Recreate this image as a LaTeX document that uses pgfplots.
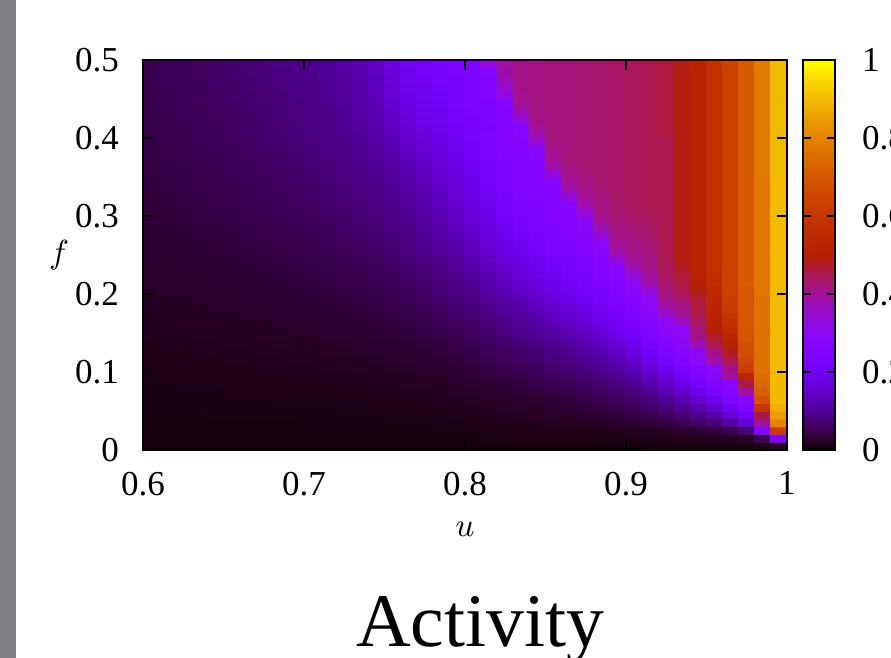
\documentclass[border=0pt]{standalone}
\usepackage{pgfplots}
\pgfplotsset{compat=1.18}
\usepackage{fontspec}
\setmainfont{Liberation Serif}
\definecolor{sidebar}{RGB}{128,129,133}
\newcommand\ticfont{\fontsize{10.5}{12}\selectfont}

\begin{document}
\begin{tikzpicture}
\useasboundingbox (-42.9pt,-62.4pt) rectangle (224.4pt,135pt);
\clip (-42.9pt,-62.4pt) rectangle (224.4pt,135pt);
\fill[sidebar] (-42.9pt,-62.4pt) rectangle (-38.1pt,135pt);
\begin{axis}[
  scale only axis, width=193.2pt, height=117pt,
  xmin=0.6, xmax=1, ymin=0, ymax=0.5,
  xtick={0.6,0.7,0.8,0.9,1}, ytick={0,0.1,0.2,0.3,0.4,0.5},
  xtick pos=both, ytick pos=both, xticklabel pos=left, yticklabel pos=left,
  tick align=inside, major tick length=3pt,
  axis line style={line width=0.6pt},
  every tick/.style={black, line width=0.5pt},
  /pgf/number format/assume math mode=true,
  xticklabel style={font=\ticfont, yshift=-3pt},
  yticklabel style={font=\ticfont, xshift=-3.7pt},
  xlabel={$u$}, ylabel={$f$},
  xlabel style={at={(axis description cs:0.5,0)}, anchor=center, yshift=-23.8pt, font=\fontsize{10.4}{12}\selectfont},
  ylabel style={at={(axis description cs:0,0.5)}, anchor=center, rotate=-90, xshift=-25.2pt, font=\fontsize{10.4}{12}\selectfont},
  axis on top,
  point meta min=0, point meta max=1,
  colormap={gnu}{rgb255(0)=(0,0,0) rgb255(5)=(18,0,8) rgb255(10)=(26,0,16) rgb255(20)=(36,0,32) rgb255(30)=(44,0,48) rgb255(40)=(51,0,63) rgb255(50)=(57,0,79) rgb255(75)=(70,0,116) rgb255(100)=(81,0,150) rgb255(125)=(90,0,180) rgb255(150)=(99,1,206) rgb255(175)=(107,1,227) rgb255(200)=(114,2,243) rgb255(225)=(121,3,252) rgb255(250)=(128,4,255) rgb255(275)=(134,5,252) rgb255(300)=(140,7,243) rgb255(350)=(151,11,206) rgb255(400)=(161,16,150) rgb255(450)=(171,23,79) rgb255(500)=(180,32,0) rgb255(550)=(189,42,0) rgb255(600)=(197,55,0) rgb255(650)=(206,70,0) rgb255(700)=(213,87,0) rgb255(750)=(221,108,0) rgb255(800)=(228,131,0) rgb255(850)=(235,157,0) rgb255(900)=(242,186,0) rgb255(950)=(249,219,0) rgb255(1000)=(255,255,0)},
  colorbar,
  colorbar shift/.style={xshift=4.8pt},
  colorbar style={
    at={(parent axis.north east)}, anchor=north west,
    width=9.6pt,
    ytick={0,0.2,0.4,0.6,0.8,1},
    ytick pos=both, yticklabel pos=right,
    tick align=inside, major tick length=2.4pt,
    axis line style={line width=0.45pt},
    every tick/.style={black, line width=0.45pt},
    /pgf/number format/assume math mode=true,
    yticklabel style={font=\ticfont, xshift=4.6pt},
  },
]
\addplot[matrix plot*, mesh/cols=40, point meta=explicit] table[x=u, y=f, meta=c] {
u f c
0.605 0.005 0.008
0.615 0.005 0.008
0.625 0.005 0.008
0.635 0.005 0.008
0.645 0.005 0.008
0.655 0.005 0.008
0.665 0.005 0.008
0.675 0.005 0.008
0.685 0.005 0.008
0.695 0.005 0.008
0.705 0.005 0.008
0.715 0.005 0.008
0.725 0.005 0.008
0.735 0.005 0.008
0.745 0.005 0.008
0.755 0.005 0.008
0.765 0.005 0.008
0.775 0.005 0.008
0.785 0.005 0.008
0.795 0.005 0.008
0.805 0.005 0.008
0.815 0.005 0.008
0.825 0.005 0.008
0.835 0.005 0.008
0.845 0.005 0.008
0.855 0.005 0.008
0.865 0.005 0.008
0.875 0.005 0.008
0.885 0.005 0.008
0.895 0.005 0.008
0.905 0.005 0.008
0.915 0.005 0.009
0.925 0.005 0.009
0.935 0.005 0.009
0.945 0.005 0.009
0.955 0.005 0.009
0.965 0.005 0.009
0.975 0.005 0.010
0.985 0.005 0.015
0.995 0.005 0.030
0.605 0.015 0.008
0.615 0.015 0.008
0.625 0.015 0.008
0.635 0.015 0.008
0.645 0.015 0.008
0.655 0.015 0.008
0.665 0.015 0.008
0.675 0.015 0.008
0.685 0.015 0.008
0.695 0.015 0.008
0.705 0.015 0.008
0.715 0.015 0.008
0.725 0.015 0.009
0.735 0.015 0.009
0.745 0.015 0.009
0.755 0.015 0.009
0.765 0.015 0.009
0.775 0.015 0.009
0.785 0.015 0.009
0.795 0.015 0.009
0.805 0.015 0.009
0.815 0.015 0.010
0.825 0.015 0.010
0.835 0.015 0.010
0.845 0.015 0.010
0.855 0.015 0.010
0.865 0.015 0.010
0.875 0.015 0.011
0.885 0.015 0.011
0.895 0.015 0.012
0.905 0.015 0.012
0.915 0.015 0.013
0.925 0.015 0.014
0.935 0.015 0.015
0.945 0.015 0.017
0.955 0.015 0.019
0.965 0.015 0.020
0.975 0.015 0.025
0.985 0.015 0.055
0.995 0.015 0.250
0.605 0.025 0.009
0.615 0.025 0.009
0.625 0.025 0.009
0.635 0.025 0.009
0.645 0.025 0.009
0.655 0.025 0.009
0.665 0.025 0.009
0.675 0.025 0.009
0.685 0.025 0.009
0.695 0.025 0.009
0.705 0.025 0.009
0.715 0.025 0.009
0.725 0.025 0.009
0.735 0.025 0.009
0.745 0.025 0.009
0.755 0.025 0.009
0.765 0.025 0.010
0.775 0.025 0.010
0.785 0.025 0.010
0.795 0.025 0.010
0.805 0.025 0.011
0.815 0.025 0.012
0.825 0.025 0.013
0.835 0.025 0.013
0.845 0.025 0.013
0.855 0.025 0.014
0.865 0.025 0.015
0.875 0.025 0.015
0.885 0.025 0.016
0.895 0.025 0.018
0.905 0.025 0.019
0.915 0.025 0.022
0.925 0.025 0.025
0.935 0.025 0.029
0.945 0.025 0.034
0.955 0.025 0.041
0.965 0.025 0.055
0.975 0.025 0.080
0.985 0.025 0.250
0.995 0.025 0.620
0.605 0.035 0.009
0.615 0.035 0.009
0.625 0.035 0.009
0.635 0.035 0.009
0.645 0.035 0.009
0.655 0.035 0.009
0.665 0.035 0.009
0.675 0.035 0.009
0.685 0.035 0.009
0.695 0.035 0.009
0.705 0.035 0.010
0.715 0.035 0.010
0.725 0.035 0.010
0.735 0.035 0.010
0.745 0.035 0.010
0.755 0.035 0.010
0.765 0.035 0.011
0.775 0.035 0.011
0.785 0.035 0.012
0.795 0.035 0.012
0.805 0.035 0.013
0.815 0.035 0.015
0.825 0.035 0.015
0.835 0.035 0.016
0.845 0.035 0.018
0.855 0.035 0.019
0.865 0.035 0.021
0.875 0.035 0.023
0.885 0.035 0.025
0.895 0.035 0.028
0.905 0.035 0.032
0.915 0.035 0.038
0.925 0.035 0.045
0.935 0.035 0.054
0.945 0.035 0.065
0.955 0.035 0.080
0.965 0.035 0.110
0.975 0.035 0.160
0.985 0.035 0.400
0.995 0.035 0.800
0.605 0.045 0.009
0.615 0.045 0.009
0.625 0.045 0.009
0.635 0.045 0.009
0.645 0.045 0.010
0.655 0.045 0.010
0.665 0.045 0.010
0.675 0.045 0.010
0.685 0.045 0.010
0.695 0.045 0.010
0.705 0.045 0.010
0.715 0.045 0.011
0.725 0.045 0.011
0.735 0.045 0.011
0.745 0.045 0.011
0.755 0.045 0.012
0.765 0.045 0.012
0.775 0.045 0.013
0.785 0.045 0.013
0.795 0.045 0.015
0.805 0.045 0.016
0.815 0.045 0.018
0.825 0.045 0.019
0.835 0.045 0.021
0.845 0.045 0.023
0.855 0.045 0.025
0.865 0.045 0.027
0.875 0.045 0.030
0.885 0.045 0.033
0.895 0.045 0.037
0.905 0.045 0.043
0.915 0.045 0.051
0.925 0.045 0.061
0.935 0.045 0.074
0.945 0.045 0.091
0.955 0.045 0.112
0.965 0.045 0.150
0.975 0.045 0.210
0.985 0.045 0.460
0.995 0.045 0.850
0.605 0.055 0.010
0.615 0.055 0.010
0.625 0.055 0.010
0.635 0.055 0.010
0.645 0.055 0.010
0.655 0.055 0.010
0.665 0.055 0.010
0.675 0.055 0.011
0.685 0.055 0.011
0.695 0.055 0.011
0.705 0.055 0.011
0.715 0.055 0.011
0.725 0.055 0.012
0.735 0.055 0.012
0.745 0.055 0.012
0.755 0.055 0.014
0.765 0.055 0.014
0.775 0.055 0.015
0.785 0.055 0.016
0.795 0.055 0.017
0.805 0.055 0.018
0.815 0.055 0.021
0.825 0.055 0.023
0.835 0.055 0.025
0.845 0.055 0.027
0.855 0.055 0.030
0.865 0.055 0.033
0.875 0.055 0.037
0.885 0.055 0.042
0.895 0.055 0.046
0.905 0.055 0.054
0.915 0.055 0.066
0.925 0.055 0.080
0.935 0.055 0.097
0.945 0.055 0.120
0.955 0.055 0.148
0.965 0.055 0.200
0.975 0.055 0.250
0.985 0.055 0.600
0.995 0.055 0.880
0.605 0.065 0.010
0.615 0.065 0.010
0.625 0.065 0.010
0.635 0.065 0.011
0.645 0.065 0.011
0.655 0.065 0.011
0.665 0.065 0.011
0.675 0.065 0.011
0.685 0.065 0.012
0.695 0.065 0.012
0.705 0.065 0.012
0.715 0.065 0.012
0.725 0.065 0.014
0.735 0.065 0.014
0.745 0.065 0.015
0.755 0.065 0.015
0.765 0.065 0.016
0.775 0.065 0.017
0.785 0.065 0.018
0.795 0.065 0.019
0.805 0.065 0.021
0.815 0.065 0.025
0.825 0.065 0.027
0.835 0.065 0.030
0.845 0.065 0.033
0.855 0.065 0.036
0.865 0.065 0.040
0.875 0.065 0.045
0.885 0.065 0.051
0.895 0.065 0.058
0.905 0.065 0.068
0.915 0.065 0.082
0.925 0.065 0.100
0.935 0.065 0.122
0.945 0.065 0.151
0.955 0.065 0.188
0.965 0.065 0.240
0.975 0.065 0.290
0.985 0.065 0.680
0.995 0.065 0.900
0.605 0.075 0.011
0.615 0.075 0.011
0.625 0.075 0.011
0.635 0.075 0.011
0.645 0.075 0.011
0.655 0.075 0.013
0.665 0.075 0.013
0.675 0.075 0.013
0.685 0.075 0.013
0.695 0.075 0.014
0.705 0.075 0.014
0.715 0.075 0.014
0.725 0.075 0.015
0.735 0.075 0.015
0.745 0.075 0.016
0.755 0.075 0.017
0.765 0.075 0.018
0.775 0.075 0.019
0.785 0.075 0.021
0.795 0.075 0.023
0.805 0.075 0.025
0.815 0.075 0.028
0.825 0.075 0.032
0.835 0.075 0.035
0.845 0.075 0.039
0.855 0.075 0.043
0.865 0.075 0.048
0.875 0.075 0.053
0.885 0.075 0.061
0.895 0.075 0.069
0.905 0.075 0.081
0.915 0.075 0.099
0.925 0.075 0.121
0.935 0.075 0.149
0.945 0.075 0.185
0.955 0.075 0.226
0.965 0.075 0.270
0.975 0.075 0.400
0.985 0.075 0.720
0.995 0.075 0.900
0.605 0.085 0.011
0.615 0.085 0.011
0.625 0.085 0.013
0.635 0.085 0.013
0.645 0.085 0.013
0.655 0.085 0.013
0.665 0.085 0.014
0.675 0.085 0.014
0.685 0.085 0.014
0.695 0.085 0.015
0.705 0.085 0.015
0.715 0.085 0.016
0.725 0.085 0.016
0.735 0.085 0.017
0.745 0.085 0.017
0.755 0.085 0.018
0.765 0.085 0.021
0.775 0.085 0.022
0.785 0.085 0.024
0.795 0.085 0.026
0.805 0.085 0.029
0.815 0.085 0.033
0.825 0.085 0.037
0.835 0.085 0.041
0.845 0.085 0.046
0.855 0.085 0.051
0.865 0.085 0.056
0.875 0.085 0.063
0.885 0.085 0.072
0.895 0.085 0.082
0.905 0.085 0.096
0.915 0.085 0.118
0.925 0.085 0.145
0.935 0.085 0.178
0.945 0.085 0.221
0.955 0.085 0.254
0.965 0.085 0.290
0.975 0.085 0.460
0.985 0.085 0.740
0.995 0.085 0.900
0.605 0.095 0.013
0.615 0.095 0.013
0.625 0.095 0.013
0.635 0.095 0.014
0.645 0.095 0.014
0.655 0.095 0.014
0.665 0.095 0.014
0.675 0.095 0.015
0.685 0.095 0.015
0.695 0.095 0.016
0.705 0.095 0.016
0.715 0.095 0.017
0.725 0.095 0.017
0.735 0.095 0.019
0.745 0.095 0.020
0.755 0.095 0.021
0.765 0.095 0.022
0.775 0.095 0.024
0.785 0.095 0.027
0.795 0.095 0.029
0.805 0.095 0.033
0.815 0.095 0.038
0.825 0.095 0.043
0.835 0.095 0.047
0.845 0.095 0.053
0.855 0.095 0.059
0.865 0.095 0.065
0.875 0.095 0.074
0.885 0.095 0.084
0.895 0.095 0.096
0.905 0.095 0.112
0.915 0.095 0.138
0.925 0.095 0.169
0.935 0.095 0.209
0.945 0.095 0.244
0.955 0.095 0.283
0.965 0.095 0.390
0.975 0.095 0.530
0.985 0.095 0.750
0.995 0.095 0.900
0.605 0.105 0.013
0.615 0.105 0.014
0.625 0.105 0.014
0.635 0.105 0.014
0.645 0.105 0.015
0.655 0.105 0.015
0.665 0.105 0.015
0.675 0.105 0.016
0.685 0.105 0.016
0.695 0.105 0.017
0.705 0.105 0.017
0.715 0.105 0.019
0.725 0.105 0.020
0.735 0.105 0.021
0.745 0.105 0.021
0.755 0.105 0.023
0.765 0.105 0.025
0.775 0.105 0.027
0.785 0.105 0.031
0.795 0.105 0.033
0.805 0.105 0.038
0.815 0.105 0.044
0.825 0.105 0.048
0.835 0.105 0.054
0.845 0.105 0.060
0.855 0.105 0.067
0.865 0.105 0.075
0.875 0.105 0.084
0.885 0.105 0.096
0.895 0.105 0.110
0.905 0.105 0.129
0.915 0.105 0.158
0.925 0.105 0.195
0.935 0.105 0.233
0.945 0.105 0.268
0.955 0.105 0.300
0.965 0.105 0.410
0.975 0.105 0.620
0.985 0.105 0.760
0.995 0.105 0.900
0.605 0.115 0.014
0.615 0.115 0.014
0.625 0.115 0.015
0.635 0.115 0.015
0.645 0.115 0.015
0.655 0.115 0.016
0.665 0.115 0.016
0.675 0.115 0.018
0.685 0.115 0.018
0.695 0.115 0.019
0.705 0.115 0.020
0.715 0.115 0.020
0.725 0.115 0.021
0.735 0.115 0.022
0.745 0.115 0.024
0.755 0.115 0.026
0.765 0.115 0.028
0.775 0.115 0.031
0.785 0.115 0.034
0.795 0.115 0.037
0.805 0.115 0.042
0.815 0.115 0.049
0.825 0.115 0.055
0.835 0.115 0.061
0.845 0.115 0.068
0.855 0.115 0.077
0.865 0.115 0.085
0.875 0.115 0.096
0.885 0.115 0.109
0.895 0.115 0.125
0.905 0.115 0.146
0.915 0.115 0.180
0.925 0.115 0.221
0.935 0.115 0.253
0.945 0.115 0.294
0.955 0.115 0.380
0.965 0.115 0.450
0.975 0.115 0.650
0.985 0.115 0.760
0.995 0.115 0.900
0.605 0.125 0.015
0.615 0.125 0.015
0.625 0.125 0.015
0.635 0.125 0.016
0.645 0.125 0.016
0.655 0.125 0.018
0.665 0.125 0.018
0.675 0.125 0.019
0.685 0.125 0.019
0.695 0.125 0.020
0.705 0.125 0.021
0.715 0.125 0.023
0.725 0.125 0.024
0.735 0.125 0.025
0.745 0.125 0.026
0.755 0.125 0.027
0.765 0.125 0.031
0.775 0.125 0.033
0.785 0.125 0.037
0.795 0.125 0.042
0.805 0.125 0.047
0.815 0.125 0.054
0.825 0.125 0.061
0.835 0.125 0.068
0.845 0.125 0.076
0.855 0.125 0.085
0.865 0.125 0.095
0.875 0.125 0.107
0.885 0.125 0.123
0.895 0.125 0.140
0.905 0.125 0.165
0.915 0.125 0.203
0.925 0.125 0.238
0.935 0.125 0.274
0.945 0.125 0.300
0.955 0.125 0.410
0.965 0.125 0.480
0.975 0.125 0.670
0.985 0.125 0.760
0.995 0.125 0.900
0.605 0.135 0.015
0.615 0.135 0.017
0.625 0.135 0.017
0.635 0.135 0.018
0.645 0.135 0.018
0.655 0.135 0.019
0.665 0.135 0.019
0.675 0.135 0.020
0.685 0.135 0.021
0.695 0.135 0.021
0.705 0.135 0.023
0.715 0.135 0.024
0.725 0.135 0.025
0.735 0.135 0.026
0.745 0.135 0.029
0.755 0.135 0.030
0.765 0.135 0.034
0.775 0.135 0.037
0.785 0.135 0.041
0.795 0.135 0.046
0.805 0.135 0.052
0.815 0.135 0.060
0.825 0.135 0.068
0.835 0.135 0.076
0.845 0.135 0.085
0.855 0.135 0.096
0.865 0.135 0.106
0.875 0.135 0.120
0.885 0.135 0.137
0.895 0.135 0.157
0.905 0.135 0.184
0.915 0.135 0.224
0.925 0.135 0.256
0.935 0.135 0.296
0.945 0.135 0.370
0.955 0.135 0.450
0.965 0.135 0.510
0.975 0.135 0.680
0.985 0.135 0.760
0.995 0.135 0.900
0.605 0.145 0.017
0.615 0.145 0.017
0.625 0.145 0.018
0.635 0.145 0.019
0.645 0.145 0.019
0.655 0.145 0.020
0.665 0.145 0.020
0.675 0.145 0.022
0.685 0.145 0.023
0.695 0.145 0.024
0.705 0.145 0.024
0.715 0.145 0.027
0.725 0.145 0.028
0.735 0.145 0.029
0.745 0.145 0.032
0.755 0.145 0.034
0.765 0.145 0.036
0.775 0.145 0.041
0.785 0.145 0.045
0.795 0.145 0.051
0.805 0.145 0.057
0.815 0.145 0.066
0.825 0.145 0.076
0.835 0.145 0.085
0.845 0.145 0.095
0.855 0.145 0.106
0.865 0.145 0.118
0.875 0.145 0.133
0.885 0.145 0.152
0.895 0.145 0.174
0.905 0.145 0.204
0.915 0.145 0.239
0.925 0.145 0.275
0.935 0.145 0.300
0.945 0.145 0.410
0.955 0.145 0.470
0.965 0.145 0.530
0.975 0.145 0.690
0.985 0.145 0.760
0.995 0.145 0.900
0.605 0.155 0.018
0.615 0.155 0.018
0.625 0.155 0.019
0.635 0.155 0.019
0.645 0.155 0.020
0.655 0.155 0.022
0.665 0.155 0.022
0.675 0.155 0.023
0.685 0.155 0.024
0.695 0.155 0.025
0.705 0.155 0.027
0.715 0.155 0.028
0.725 0.155 0.030
0.735 0.155 0.032
0.745 0.155 0.034
0.755 0.155 0.037
0.765 0.155 0.040
0.775 0.155 0.045
0.785 0.155 0.050
0.795 0.155 0.055
0.805 0.155 0.063
0.815 0.155 0.073
0.825 0.155 0.083
0.835 0.155 0.093
0.845 0.155 0.104
0.855 0.155 0.117
0.865 0.155 0.131
0.875 0.155 0.147
0.885 0.155 0.167
0.895 0.155 0.192
0.905 0.155 0.222
0.915 0.155 0.254
0.925 0.155 0.294
0.935 0.155 0.300
0.945 0.155 0.420
0.955 0.155 0.500
0.965 0.155 0.560
0.975 0.155 0.700
0.985 0.155 0.760
0.995 0.155 0.900
0.605 0.165 0.019
0.615 0.165 0.019
0.625 0.165 0.021
0.635 0.165 0.021
0.645 0.165 0.022
0.655 0.165 0.023
0.665 0.165 0.024
0.675 0.165 0.024
0.685 0.165 0.026
0.695 0.165 0.027
0.705 0.165 0.028
0.715 0.165 0.031
0.725 0.165 0.032
0.735 0.165 0.034
0.745 0.165 0.037
0.755 0.165 0.039
0.765 0.165 0.043
0.775 0.165 0.048
0.785 0.165 0.055
0.795 0.165 0.061
0.805 0.165 0.068
0.815 0.165 0.080
0.825 0.165 0.091
0.835 0.165 0.102
0.845 0.165 0.114
0.855 0.165 0.128
0.865 0.165 0.142
0.875 0.165 0.160
0.885 0.165 0.184
0.895 0.165 0.209
0.905 0.165 0.235
0.915 0.165 0.270
0.925 0.165 0.300
0.935 0.165 0.360
0.945 0.165 0.440
0.955 0.165 0.510
0.965 0.165 0.580
0.975 0.165 0.700
0.985 0.165 0.760
0.995 0.165 0.900
0.605 0.175 0.019
0.615 0.175 0.021
0.625 0.175 0.022
0.635 0.175 0.022
0.645 0.175 0.023
0.655 0.175 0.024
0.665 0.175 0.026
0.675 0.175 0.027
0.685 0.175 0.028
0.695 0.175 0.030
0.705 0.175 0.031
0.715 0.175 0.032
0.725 0.175 0.035
0.735 0.175 0.037
0.745 0.175 0.040
0.755 0.175 0.042
0.765 0.175 0.047
0.775 0.175 0.052
0.785 0.175 0.059
0.795 0.175 0.066
0.805 0.175 0.075
0.815 0.175 0.087
0.825 0.175 0.099
0.835 0.175 0.112
0.845 0.175 0.124
0.855 0.175 0.140
0.865 0.175 0.155
0.875 0.175 0.175
0.885 0.175 0.200
0.895 0.175 0.221
0.905 0.175 0.248
0.915 0.175 0.286
0.925 0.175 0.350
0.935 0.175 0.400
0.945 0.175 0.455
0.955 0.175 0.520
0.965 0.175 0.600
0.975 0.175 0.700
0.985 0.175 0.760
0.995 0.175 0.900
0.605 0.185 0.021
0.615 0.185 0.022
0.625 0.185 0.022
0.635 0.185 0.023
0.645 0.185 0.025
0.655 0.185 0.026
0.665 0.185 0.027
0.675 0.185 0.028
0.685 0.185 0.030
0.695 0.185 0.031
0.705 0.185 0.032
0.715 0.185 0.035
0.725 0.185 0.037
0.735 0.185 0.040
0.745 0.185 0.042
0.755 0.185 0.046
0.765 0.185 0.051
0.775 0.185 0.058
0.785 0.185 0.064
0.795 0.185 0.072
0.805 0.185 0.081
0.815 0.185 0.095
0.825 0.185 0.109
0.835 0.185 0.121
0.845 0.185 0.136
0.855 0.185 0.151
0.865 0.185 0.168
0.875 0.185 0.190
0.885 0.185 0.218
0.895 0.185 0.232
0.905 0.185 0.262
0.915 0.185 0.300
0.925 0.185 0.390
0.935 0.185 0.410
0.945 0.185 0.460
0.955 0.185 0.530
0.965 0.185 0.610
0.975 0.185 0.700
0.985 0.185 0.760
0.995 0.185 0.900
0.605 0.195 0.022
0.615 0.195 0.023
0.625 0.195 0.023
0.635 0.195 0.025
0.645 0.195 0.026
0.655 0.195 0.027
0.665 0.195 0.029
0.675 0.195 0.030
0.685 0.195 0.031
0.695 0.195 0.034
0.705 0.195 0.035
0.715 0.195 0.037
0.725 0.195 0.040
0.735 0.195 0.043
0.745 0.195 0.045
0.755 0.195 0.049
0.765 0.195 0.055
0.775 0.195 0.062
0.785 0.195 0.070
0.795 0.195 0.077
0.805 0.195 0.088
0.815 0.195 0.102
0.825 0.195 0.117
0.835 0.195 0.131
0.845 0.195 0.146
0.855 0.195 0.163
0.865 0.195 0.183
0.875 0.195 0.206
0.885 0.195 0.220
0.895 0.195 0.243
0.905 0.195 0.276
0.915 0.195 0.300
0.925 0.195 0.410
0.935 0.195 0.430
0.945 0.195 0.470
0.955 0.195 0.540
0.965 0.195 0.620
0.975 0.195 0.700
0.985 0.195 0.760
0.995 0.195 0.900
0.605 0.205 0.023
0.615 0.205 0.025
0.625 0.205 0.025
0.635 0.205 0.026
0.645 0.205 0.027
0.655 0.205 0.029
0.665 0.205 0.030
0.675 0.205 0.031
0.685 0.205 0.034
0.695 0.205 0.035
0.705 0.205 0.038
0.715 0.205 0.040
0.725 0.205 0.043
0.735 0.205 0.045
0.745 0.205 0.048
0.755 0.205 0.053
0.765 0.205 0.058
0.775 0.205 0.066
0.785 0.205 0.074
0.795 0.205 0.083
0.805 0.205 0.094
0.815 0.205 0.110
0.825 0.205 0.125
0.835 0.205 0.141
0.845 0.205 0.158
0.855 0.205 0.177
0.865 0.205 0.197
0.875 0.205 0.221
0.885 0.205 0.230
0.895 0.205 0.255
0.905 0.205 0.290
0.915 0.205 0.340
0.925 0.205 0.420
0.935 0.205 0.450
0.945 0.205 0.490
0.955 0.205 0.550
0.965 0.205 0.630
0.975 0.205 0.700
0.985 0.205 0.770
0.995 0.205 0.900
0.605 0.215 0.025
0.615 0.215 0.025
0.625 0.215 0.026
0.635 0.215 0.027
0.645 0.215 0.029
0.655 0.215 0.030
0.665 0.215 0.033
0.675 0.215 0.034
0.685 0.215 0.035
0.695 0.215 0.038
0.705 0.215 0.039
0.715 0.215 0.042
0.725 0.215 0.046
0.735 0.215 0.048
0.745 0.215 0.052
0.755 0.215 0.056
0.765 0.215 0.062
0.775 0.215 0.070
0.785 0.215 0.079
0.795 0.215 0.090
0.805 0.215 0.101
0.815 0.215 0.118
0.825 0.215 0.135
0.835 0.215 0.151
0.845 0.215 0.169
0.855 0.215 0.189
0.865 0.215 0.211
0.875 0.215 0.231
0.885 0.215 0.240
0.895 0.215 0.267
0.905 0.215 0.300
0.915 0.215 0.380
0.925 0.215 0.430
0.935 0.215 0.460
0.945 0.215 0.500
0.955 0.215 0.560
0.965 0.215 0.640
0.975 0.215 0.710
0.985 0.215 0.770
0.995 0.215 0.900
0.605 0.225 0.026
0.615 0.225 0.026
0.625 0.225 0.027
0.635 0.225 0.029
0.645 0.225 0.031
0.655 0.225 0.033
0.665 0.225 0.034
0.675 0.225 0.035
0.685 0.225 0.038
0.695 0.225 0.039
0.705 0.225 0.042
0.715 0.225 0.044
0.725 0.225 0.048
0.735 0.225 0.051
0.745 0.225 0.055
0.755 0.225 0.060
0.765 0.225 0.066
0.775 0.225 0.075
0.785 0.225 0.085
0.795 0.225 0.095
0.805 0.225 0.108
0.815 0.225 0.126
0.825 0.225 0.144
0.835 0.225 0.162
0.845 0.225 0.182
0.855 0.225 0.202
0.865 0.225 0.223
0.875 0.225 0.226
0.885 0.225 0.250
0.895 0.225 0.279
0.905 0.225 0.340
0.915 0.225 0.400
0.925 0.225 0.440
0.935 0.225 0.470
0.945 0.225 0.510
0.955 0.225 0.570
0.965 0.225 0.640
0.975 0.225 0.710
0.985 0.225 0.770
0.995 0.225 0.900
0.605 0.235 0.026
0.615 0.235 0.027
0.625 0.235 0.029
0.635 0.235 0.031
0.645 0.235 0.033
0.655 0.235 0.034
0.665 0.235 0.035
0.675 0.235 0.038
0.685 0.235 0.039
0.695 0.235 0.042
0.705 0.235 0.044
0.715 0.235 0.047
0.725 0.235 0.051
0.735 0.235 0.054
0.745 0.235 0.057
0.755 0.235 0.063
0.765 0.235 0.070
0.775 0.235 0.079
0.785 0.235 0.090
0.795 0.235 0.102
0.805 0.235 0.115
0.815 0.235 0.134
0.825 0.235 0.154
0.835 0.235 0.172
0.845 0.235 0.193
0.855 0.235 0.216
0.865 0.235 0.232
0.875 0.235 0.235
0.885 0.235 0.261
0.895 0.235 0.292
0.905 0.235 0.380
0.915 0.235 0.410
0.925 0.235 0.445
0.935 0.235 0.480
0.945 0.235 0.520
0.955 0.235 0.580
0.965 0.235 0.640
0.975 0.235 0.710
0.985 0.235 0.770
0.995 0.235 0.900
0.605 0.245 0.028
0.615 0.245 0.029
0.625 0.245 0.030
0.635 0.245 0.033
0.645 0.245 0.034
0.655 0.245 0.035
0.665 0.245 0.038
0.675 0.245 0.039
0.685 0.245 0.042
0.695 0.245 0.044
0.705 0.245 0.047
0.715 0.245 0.050
0.725 0.245 0.054
0.735 0.245 0.057
0.745 0.245 0.061
0.755 0.245 0.067
0.765 0.245 0.076
0.775 0.245 0.085
0.785 0.245 0.095
0.795 0.245 0.107
0.805 0.245 0.122
0.815 0.245 0.142
0.825 0.245 0.163
0.835 0.245 0.182
0.845 0.245 0.205
0.855 0.245 0.221
0.865 0.245 0.228
0.875 0.245 0.244
0.885 0.245 0.271
0.895 0.245 0.340
0.905 0.245 0.400
0.915 0.245 0.415
0.925 0.245 0.450
0.935 0.245 0.490
0.945 0.245 0.520
0.955 0.245 0.580
0.965 0.245 0.640
0.975 0.245 0.710
0.985 0.245 0.770
0.995 0.245 0.900
0.605 0.255 0.029
0.615 0.255 0.030
0.625 0.255 0.033
0.635 0.255 0.034
0.645 0.255 0.035
0.655 0.255 0.038
0.665 0.255 0.039
0.675 0.255 0.042
0.685 0.255 0.043
0.695 0.255 0.046
0.705 0.255 0.048
0.715 0.255 0.052
0.725 0.255 0.056
0.735 0.255 0.060
0.745 0.255 0.064
0.755 0.255 0.070
0.765 0.255 0.080
0.775 0.255 0.089
0.785 0.255 0.100
0.795 0.255 0.113
0.805 0.255 0.129
0.815 0.255 0.149
0.825 0.255 0.173
0.835 0.255 0.193
0.845 0.255 0.217
0.855 0.255 0.234
0.865 0.255 0.238
0.875 0.255 0.253
0.885 0.255 0.283
0.895 0.255 0.380
0.905 0.255 0.410
0.915 0.255 0.420
0.925 0.255 0.450
0.935 0.255 0.490
0.945 0.255 0.520
0.955 0.255 0.580
0.965 0.255 0.640
0.975 0.255 0.710
0.985 0.255 0.770
0.995 0.255 0.900
0.605 0.265 0.030
0.615 0.265 0.031
0.625 0.265 0.034
0.635 0.265 0.035
0.645 0.265 0.037
0.655 0.265 0.039
0.665 0.265 0.042
0.675 0.265 0.043
0.685 0.265 0.046
0.695 0.265 0.048
0.705 0.265 0.051
0.715 0.265 0.055
0.725 0.265 0.059
0.735 0.265 0.063
0.745 0.265 0.068
0.755 0.265 0.074
0.765 0.265 0.083
0.775 0.265 0.094
0.785 0.265 0.105
0.795 0.265 0.120
0.805 0.265 0.135
0.815 0.265 0.157
0.825 0.265 0.182
0.835 0.265 0.205
0.845 0.265 0.226
0.855 0.265 0.242
0.865 0.265 0.244
0.875 0.265 0.262
0.885 0.265 0.294
0.895 0.265 0.400
0.905 0.265 0.415
0.915 0.265 0.425
0.925 0.265 0.450
0.935 0.265 0.490
0.945 0.265 0.520
0.955 0.265 0.580
0.965 0.265 0.640
0.975 0.265 0.710
0.985 0.265 0.770
0.995 0.265 0.900
0.605 0.275 0.031
0.615 0.275 0.033
0.625 0.275 0.035
0.635 0.275 0.037
0.645 0.275 0.039
0.655 0.275 0.040
0.665 0.275 0.043
0.675 0.275 0.046
0.685 0.275 0.048
0.695 0.275 0.051
0.705 0.275 0.053
0.715 0.275 0.057
0.725 0.275 0.061
0.735 0.275 0.066
0.745 0.275 0.070
0.755 0.275 0.078
0.765 0.275 0.087
0.775 0.275 0.099
0.785 0.275 0.112
0.795 0.275 0.126
0.805 0.275 0.143
0.815 0.275 0.166
0.825 0.275 0.192
0.835 0.275 0.214
0.845 0.275 0.233
0.855 0.275 0.240
0.865 0.275 0.250
0.875 0.275 0.272
0.885 0.275 0.340
0.895 0.275 0.410
0.905 0.275 0.420
0.915 0.275 0.430
0.925 0.275 0.450
0.935 0.275 0.490
0.945 0.275 0.520
0.955 0.275 0.580
0.965 0.275 0.640
0.975 0.275 0.710
0.985 0.275 0.770
0.995 0.275 0.900
0.605 0.285 0.033
0.615 0.285 0.035
0.625 0.285 0.036
0.635 0.285 0.038
0.645 0.285 0.040
0.655 0.285 0.043
0.665 0.285 0.044
0.675 0.285 0.047
0.685 0.285 0.049
0.695 0.285 0.053
0.705 0.285 0.056
0.715 0.285 0.060
0.725 0.285 0.065
0.735 0.285 0.069
0.745 0.285 0.074
0.755 0.285 0.082
0.765 0.285 0.092
0.775 0.285 0.104
0.785 0.285 0.117
0.795 0.285 0.132
0.805 0.285 0.150
0.815 0.285 0.175
0.825 0.285 0.200
0.835 0.285 0.223
0.845 0.285 0.240
0.855 0.285 0.246
0.865 0.285 0.256
0.875 0.285 0.282
0.885 0.285 0.380
0.895 0.285 0.415
0.905 0.285 0.425
0.915 0.285 0.435
0.925 0.285 0.450
0.935 0.285 0.490
0.945 0.285 0.520
0.955 0.285 0.580
0.965 0.285 0.640
0.975 0.285 0.710
0.985 0.285 0.770
0.995 0.285 0.900
0.605 0.295 0.034
0.615 0.295 0.036
0.625 0.295 0.038
0.635 0.295 0.040
0.645 0.295 0.041
0.655 0.295 0.044
0.665 0.295 0.047
0.675 0.295 0.049
0.685 0.295 0.052
0.695 0.295 0.054
0.705 0.295 0.058
0.715 0.295 0.062
0.725 0.295 0.067
0.735 0.295 0.072
0.745 0.295 0.078
0.755 0.295 0.085
0.765 0.295 0.096
0.775 0.295 0.109
0.785 0.295 0.121
0.795 0.295 0.138
0.805 0.295 0.157
0.815 0.295 0.182
0.825 0.295 0.210
0.835 0.295 0.230
0.845 0.295 0.242
0.855 0.295 0.250
0.865 0.295 0.263
0.875 0.295 0.292
0.885 0.295 0.400
0.895 0.295 0.420
0.905 0.295 0.430
0.915 0.295 0.440
0.925 0.295 0.450
0.935 0.295 0.490
0.945 0.295 0.520
0.955 0.295 0.580
0.965 0.295 0.640
0.975 0.295 0.710
0.985 0.295 0.770
0.995 0.295 0.900
0.605 0.305 0.035
0.615 0.305 0.037
0.625 0.305 0.039
0.635 0.305 0.041
0.645 0.305 0.044
0.655 0.305 0.045
0.665 0.305 0.048
0.675 0.305 0.052
0.685 0.305 0.054
0.695 0.305 0.057
0.705 0.305 0.061
0.715 0.305 0.064
0.725 0.305 0.070
0.735 0.305 0.075
0.745 0.305 0.081
0.755 0.305 0.089
0.765 0.305 0.100
0.775 0.305 0.113
0.785 0.305 0.127
0.795 0.305 0.144
0.805 0.305 0.164
0.815 0.305 0.190
0.825 0.305 0.219
0.835 0.305 0.236
0.845 0.305 0.244
0.855 0.305 0.252
0.865 0.305 0.272
0.875 0.305 0.340
0.885 0.305 0.410
0.895 0.305 0.425
0.905 0.305 0.435
0.915 0.305 0.445
0.925 0.305 0.450
0.935 0.305 0.490
0.945 0.305 0.520
0.955 0.305 0.580
0.965 0.305 0.640
0.975 0.305 0.710
0.985 0.305 0.770
0.995 0.305 0.900
0.605 0.315 0.036
0.615 0.315 0.039
0.625 0.315 0.040
0.635 0.315 0.042
0.645 0.315 0.045
0.655 0.315 0.048
0.665 0.315 0.050
0.675 0.315 0.053
0.685 0.315 0.057
0.695 0.315 0.059
0.705 0.315 0.063
0.715 0.315 0.068
0.725 0.315 0.073
0.735 0.315 0.078
0.745 0.315 0.083
0.755 0.315 0.092
0.765 0.315 0.104
0.775 0.315 0.118
0.785 0.315 0.133
0.795 0.315 0.150
0.805 0.315 0.171
0.815 0.315 0.198
0.825 0.315 0.225
0.835 0.315 0.242
0.845 0.315 0.246
0.855 0.315 0.256
0.865 0.315 0.281
0.875 0.315 0.380
0.885 0.315 0.415
0.895 0.315 0.430
0.905 0.315 0.440
0.915 0.315 0.450
0.925 0.315 0.450
0.935 0.315 0.490
0.945 0.315 0.520
0.955 0.315 0.580
0.965 0.315 0.640
0.975 0.315 0.710
0.985 0.315 0.770
0.995 0.315 0.900
0.605 0.325 0.037
0.615 0.325 0.040
0.625 0.325 0.042
0.635 0.325 0.045
0.645 0.325 0.046
0.655 0.325 0.049
0.665 0.325 0.052
0.675 0.325 0.055
0.685 0.325 0.057
0.695 0.325 0.061
0.705 0.325 0.065
0.715 0.325 0.070
0.725 0.325 0.075
0.735 0.325 0.080
0.745 0.325 0.087
0.755 0.325 0.095
0.765 0.325 0.108
0.775 0.325 0.122
0.785 0.325 0.137
0.795 0.325 0.155
0.805 0.325 0.178
0.815 0.325 0.206
0.825 0.325 0.231
0.835 0.325 0.249
0.845 0.325 0.252
0.855 0.325 0.265
0.865 0.325 0.340
0.875 0.325 0.400
0.885 0.325 0.420
0.895 0.325 0.435
0.905 0.325 0.440
0.915 0.325 0.450
0.925 0.325 0.450
0.935 0.325 0.490
0.945 0.325 0.520
0.955 0.325 0.580
0.965 0.325 0.640
0.975 0.325 0.710
0.985 0.325 0.770
0.995 0.325 0.900
0.605 0.335 0.039
0.615 0.335 0.041
0.625 0.335 0.043
0.635 0.335 0.046
0.645 0.335 0.048
0.655 0.335 0.051
0.665 0.335 0.053
0.675 0.335 0.057
0.685 0.335 0.060
0.695 0.335 0.063
0.705 0.335 0.067
0.715 0.335 0.072
0.725 0.335 0.078
0.735 0.335 0.084
0.745 0.335 0.090
0.755 0.335 0.099
0.765 0.335 0.111
0.775 0.335 0.126
0.785 0.335 0.143
0.795 0.335 0.162
0.805 0.335 0.184
0.815 0.335 0.214
0.825 0.335 0.236
0.835 0.335 0.250
0.845 0.335 0.255
0.855 0.335 0.271
0.865 0.335 0.380
0.875 0.335 0.410
0.885 0.335 0.425
0.895 0.335 0.435
0.905 0.335 0.440
0.915 0.335 0.450
0.925 0.335 0.450
0.935 0.335 0.490
0.945 0.335 0.520
0.955 0.335 0.580
0.965 0.335 0.640
0.975 0.335 0.710
0.985 0.335 0.770
0.995 0.335 0.900
0.605 0.345 0.040
0.615 0.345 0.042
0.625 0.345 0.044
0.635 0.345 0.047
0.645 0.345 0.049
0.655 0.345 0.052
0.665 0.345 0.055
0.675 0.345 0.058
0.685 0.345 0.062
0.695 0.345 0.065
0.705 0.345 0.069
0.715 0.345 0.074
0.725 0.345 0.080
0.735 0.345 0.087
0.745 0.345 0.093
0.755 0.345 0.103
0.765 0.345 0.115
0.775 0.345 0.130
0.785 0.345 0.148
0.795 0.345 0.167
0.805 0.345 0.190
0.815 0.345 0.221
0.825 0.345 0.242
0.835 0.345 0.252
0.845 0.345 0.260
0.855 0.345 0.279
0.865 0.345 0.400
0.875 0.345 0.415
0.885 0.345 0.430
0.895 0.345 0.435
0.905 0.345 0.440
0.915 0.345 0.450
0.925 0.345 0.450
0.935 0.345 0.490
0.945 0.345 0.520
0.955 0.345 0.580
0.965 0.345 0.640
0.975 0.345 0.710
0.985 0.345 0.770
0.995 0.345 0.900
0.605 0.355 0.041
0.615 0.355 0.044
0.625 0.355 0.045
0.635 0.355 0.049
0.645 0.355 0.051
0.655 0.355 0.054
0.665 0.355 0.057
0.675 0.355 0.060
0.685 0.355 0.064
0.695 0.355 0.067
0.705 0.355 0.072
0.715 0.355 0.077
0.725 0.355 0.084
0.735 0.355 0.090
0.745 0.355 0.096
0.755 0.355 0.106
0.765 0.355 0.119
0.775 0.355 0.134
0.785 0.355 0.153
0.795 0.355 0.173
0.805 0.355 0.197
0.815 0.355 0.225
0.825 0.355 0.246
0.835 0.355 0.254
0.845 0.355 0.263
0.855 0.355 0.340
0.865 0.355 0.410
0.875 0.355 0.420
0.885 0.355 0.430
0.895 0.355 0.435
0.905 0.355 0.440
0.915 0.355 0.450
0.925 0.355 0.450
0.935 0.355 0.490
0.945 0.355 0.520
0.955 0.355 0.580
0.965 0.355 0.640
0.975 0.355 0.710
0.985 0.355 0.780
0.995 0.355 0.900
0.605 0.365 0.042
0.615 0.365 0.045
0.625 0.365 0.047
0.635 0.365 0.050
0.645 0.365 0.052
0.655 0.365 0.056
0.665 0.365 0.058
0.675 0.365 0.062
0.685 0.365 0.066
0.695 0.365 0.069
0.705 0.365 0.074
0.715 0.365 0.079
0.725 0.365 0.085
0.735 0.365 0.091
0.745 0.365 0.100
0.755 0.365 0.111
0.765 0.365 0.126
0.775 0.365 0.142
0.785 0.365 0.160
0.795 0.365 0.178
0.805 0.365 0.204
0.815 0.365 0.230
0.825 0.365 0.248
0.835 0.365 0.256
0.845 0.365 0.268
0.855 0.365 0.380
0.865 0.365 0.415
0.875 0.365 0.425
0.885 0.365 0.430
0.895 0.365 0.435
0.905 0.365 0.440
0.915 0.365 0.450
0.925 0.365 0.450
0.935 0.365 0.490
0.945 0.365 0.520
0.955 0.365 0.580
0.965 0.365 0.640
0.975 0.365 0.710
0.985 0.365 0.780
0.995 0.365 0.900
0.605 0.375 0.043
0.615 0.375 0.046
0.625 0.375 0.048
0.635 0.375 0.050
0.645 0.375 0.054
0.655 0.375 0.056
0.665 0.375 0.060
0.675 0.375 0.064
0.685 0.375 0.067
0.695 0.375 0.071
0.705 0.375 0.076
0.715 0.375 0.082
0.725 0.375 0.088
0.735 0.375 0.095
0.745 0.375 0.103
0.755 0.375 0.117
0.765 0.375 0.133
0.775 0.375 0.149
0.785 0.375 0.167
0.795 0.375 0.186
0.805 0.375 0.210
0.815 0.375 0.234
0.825 0.375 0.250
0.835 0.375 0.260
0.845 0.375 0.275
0.855 0.375 0.400
0.865 0.375 0.420
0.875 0.375 0.425
0.885 0.375 0.430
0.895 0.375 0.435
0.905 0.375 0.440
0.915 0.375 0.450
0.925 0.375 0.450
0.935 0.375 0.490
0.945 0.375 0.520
0.955 0.375 0.580
0.965 0.375 0.640
0.975 0.375 0.710
0.985 0.375 0.780
0.995 0.375 0.900
0.605 0.385 0.044
0.615 0.385 0.046
0.625 0.385 0.049
0.635 0.385 0.052
0.645 0.385 0.055
0.655 0.385 0.058
0.665 0.385 0.062
0.675 0.385 0.066
0.685 0.385 0.069
0.695 0.385 0.073
0.705 0.385 0.078
0.715 0.385 0.084
0.725 0.385 0.091
0.735 0.385 0.098
0.745 0.385 0.107
0.755 0.385 0.122
0.765 0.385 0.139
0.775 0.385 0.156
0.785 0.385 0.173
0.795 0.385 0.192
0.805 0.385 0.216
0.815 0.385 0.237
0.825 0.385 0.252
0.835 0.385 0.263
0.845 0.385 0.282
0.855 0.385 0.410
0.865 0.385 0.420
0.875 0.385 0.425
0.885 0.385 0.430
0.895 0.385 0.435
0.905 0.385 0.440
0.915 0.385 0.450
0.925 0.385 0.450
0.935 0.385 0.490
0.945 0.385 0.520
0.955 0.385 0.580
0.965 0.385 0.640
0.975 0.385 0.710
0.985 0.385 0.780
0.995 0.385 0.900
0.605 0.395 0.045
0.615 0.395 0.048
0.625 0.395 0.051
0.635 0.395 0.053
0.645 0.395 0.057
0.655 0.395 0.059
0.665 0.395 0.062
0.675 0.395 0.066
0.685 0.395 0.071
0.695 0.395 0.074
0.705 0.395 0.080
0.715 0.395 0.086
0.725 0.395 0.092
0.735 0.395 0.100
0.745 0.395 0.110
0.755 0.395 0.127
0.765 0.395 0.147
0.775 0.395 0.162
0.785 0.395 0.180
0.795 0.395 0.199
0.805 0.395 0.222
0.815 0.395 0.241
0.825 0.395 0.254
0.835 0.395 0.266
0.845 0.395 0.340
0.855 0.395 0.415
0.865 0.395 0.420
0.875 0.395 0.425
0.885 0.395 0.430
0.895 0.395 0.435
0.905 0.395 0.440
0.915 0.395 0.450
0.925 0.395 0.450
0.935 0.395 0.490
0.945 0.395 0.520
0.955 0.395 0.580
0.965 0.395 0.640
0.975 0.395 0.710
0.985 0.395 0.780
0.995 0.395 0.900
0.605 0.405 0.047
0.615 0.405 0.049
0.625 0.405 0.051
0.635 0.405 0.055
0.645 0.405 0.057
0.655 0.405 0.061
0.665 0.405 0.064
0.675 0.405 0.068
0.685 0.405 0.072
0.695 0.405 0.077
0.705 0.405 0.082
0.715 0.405 0.088
0.725 0.405 0.095
0.735 0.405 0.104
0.745 0.405 0.115
0.755 0.405 0.131
0.765 0.405 0.153
0.775 0.405 0.169
0.785 0.405 0.186
0.795 0.405 0.204
0.805 0.405 0.226
0.815 0.405 0.240
0.825 0.405 0.252
0.835 0.405 0.269
0.845 0.405 0.380
0.855 0.405 0.420
0.865 0.405 0.420
0.875 0.405 0.425
0.885 0.405 0.430
0.895 0.405 0.435
0.905 0.405 0.440
0.915 0.405 0.450
0.925 0.405 0.460
0.935 0.405 0.490
0.945 0.405 0.520
0.955 0.405 0.580
0.965 0.405 0.640
0.975 0.405 0.710
0.985 0.405 0.780
0.995 0.405 0.900
0.605 0.415 0.047
0.615 0.415 0.050
0.625 0.415 0.052
0.635 0.415 0.055
0.645 0.415 0.059
0.655 0.415 0.062
0.665 0.415 0.066
0.675 0.415 0.069
0.685 0.415 0.074
0.695 0.415 0.078
0.705 0.415 0.083
0.715 0.415 0.090
0.725 0.415 0.097
0.735 0.415 0.106
0.745 0.415 0.118
0.755 0.415 0.137
0.765 0.415 0.158
0.775 0.415 0.175
0.785 0.415 0.194
0.795 0.415 0.211
0.805 0.415 0.230
0.815 0.415 0.236
0.825 0.415 0.254
0.835 0.415 0.275
0.845 0.415 0.400
0.855 0.415 0.420
0.865 0.415 0.420
0.875 0.415 0.425
0.885 0.415 0.430
0.895 0.415 0.435
0.905 0.415 0.440
0.915 0.415 0.450
0.925 0.415 0.460
0.935 0.415 0.490
0.945 0.415 0.520
0.955 0.415 0.580
0.965 0.415 0.640
0.975 0.415 0.710
0.985 0.415 0.780
0.995 0.415 0.900
0.605 0.425 0.048
0.615 0.425 0.050
0.625 0.425 0.053
0.635 0.425 0.057
0.645 0.425 0.059
0.655 0.425 0.063
0.665 0.425 0.067
0.675 0.425 0.070
0.685 0.425 0.075
0.695 0.425 0.080
0.705 0.425 0.085
0.715 0.425 0.091
0.725 0.425 0.099
0.735 0.425 0.109
0.745 0.425 0.122
0.755 0.425 0.141
0.765 0.425 0.164
0.775 0.425 0.182
0.785 0.425 0.200
0.795 0.425 0.217
0.805 0.425 0.233
0.815 0.425 0.238
0.825 0.425 0.258
0.835 0.425 0.340
0.845 0.425 0.410
0.855 0.425 0.420
0.865 0.425 0.420
0.875 0.425 0.425
0.885 0.425 0.430
0.895 0.425 0.435
0.905 0.425 0.440
0.915 0.425 0.450
0.925 0.425 0.460
0.935 0.425 0.490
0.945 0.425 0.520
0.955 0.425 0.580
0.965 0.425 0.640
0.975 0.425 0.710
0.985 0.425 0.780
0.995 0.425 0.900
0.605 0.435 0.048
0.615 0.435 0.052
0.625 0.435 0.054
0.635 0.435 0.057
0.645 0.435 0.061
0.655 0.435 0.064
0.665 0.435 0.068
0.675 0.435 0.072
0.685 0.435 0.076
0.695 0.435 0.081
0.705 0.435 0.086
0.715 0.435 0.093
0.725 0.435 0.100
0.735 0.435 0.111
0.745 0.435 0.124
0.755 0.435 0.146
0.765 0.435 0.170
0.775 0.435 0.189
0.785 0.435 0.205
0.795 0.435 0.221
0.805 0.435 0.237
0.815 0.435 0.240
0.825 0.435 0.262
0.835 0.435 0.380
0.845 0.435 0.415
0.855 0.435 0.420
0.865 0.435 0.420
0.875 0.435 0.425
0.885 0.435 0.430
0.895 0.435 0.435
0.905 0.435 0.440
0.915 0.435 0.450
0.925 0.435 0.460
0.935 0.435 0.490
0.945 0.435 0.520
0.955 0.435 0.580
0.965 0.435 0.640
0.975 0.435 0.710
0.985 0.435 0.780
0.995 0.435 0.900
0.605 0.445 0.050
0.615 0.445 0.052
0.625 0.445 0.055
0.635 0.445 0.059
0.645 0.445 0.062
0.655 0.445 0.065
0.665 0.445 0.070
0.675 0.445 0.073
0.685 0.445 0.077
0.695 0.445 0.082
0.705 0.445 0.087
0.715 0.445 0.094
0.725 0.445 0.102
0.735 0.445 0.112
0.745 0.445 0.128
0.755 0.445 0.151
0.765 0.445 0.175
0.775 0.445 0.195
0.785 0.445 0.212
0.795 0.445 0.224
0.805 0.445 0.239
0.815 0.445 0.246
0.825 0.445 0.268
0.835 0.445 0.400
0.845 0.445 0.415
0.855 0.445 0.420
0.865 0.445 0.420
0.875 0.445 0.425
0.885 0.445 0.430
0.895 0.445 0.435
0.905 0.445 0.440
0.915 0.445 0.450
0.925 0.445 0.460
0.935 0.445 0.490
0.945 0.445 0.520
0.955 0.445 0.580
0.965 0.445 0.640
0.975 0.445 0.710
0.985 0.445 0.780
0.995 0.445 0.900
0.605 0.455 0.050
0.615 0.455 0.052
0.625 0.455 0.056
0.635 0.455 0.059
0.645 0.455 0.062
0.655 0.455 0.067
0.665 0.455 0.070
0.675 0.455 0.074
0.685 0.455 0.078
0.695 0.455 0.084
0.705 0.455 0.089
0.715 0.455 0.096
0.725 0.455 0.103
0.735 0.455 0.115
0.745 0.455 0.131
0.755 0.455 0.155
0.765 0.455 0.180
0.775 0.455 0.201
0.785 0.455 0.216
0.795 0.455 0.227
0.805 0.455 0.242
0.815 0.455 0.250
0.825 0.455 0.320
0.835 0.455 0.405
0.845 0.455 0.415
0.855 0.455 0.420
0.865 0.455 0.420
0.875 0.455 0.425
0.885 0.455 0.430
0.895 0.455 0.435
0.905 0.455 0.440
0.915 0.455 0.450
0.925 0.455 0.460
0.935 0.455 0.490
0.945 0.455 0.520
0.955 0.455 0.580
0.965 0.455 0.640
0.975 0.455 0.710
0.985 0.455 0.780
0.995 0.455 0.900
0.605 0.465 0.051
0.615 0.465 0.054
0.625 0.465 0.057
0.635 0.465 0.060
0.645 0.465 0.063
0.655 0.465 0.067
0.665 0.465 0.071
0.675 0.465 0.075
0.685 0.465 0.080
0.695 0.465 0.085
0.705 0.465 0.090
0.715 0.465 0.097
0.725 0.465 0.105
0.735 0.465 0.116
0.745 0.465 0.134
0.755 0.465 0.159
0.765 0.465 0.187
0.775 0.465 0.205
0.785 0.465 0.221
0.795 0.465 0.230
0.805 0.465 0.244
0.815 0.465 0.255
0.825 0.465 0.350
0.835 0.465 0.410
0.845 0.465 0.415
0.855 0.465 0.420
0.865 0.465 0.420
0.875 0.465 0.425
0.885 0.465 0.430
0.895 0.465 0.435
0.905 0.465 0.440
0.915 0.465 0.450
0.925 0.465 0.460
0.935 0.465 0.490
0.945 0.465 0.520
0.955 0.465 0.580
0.965 0.465 0.640
0.975 0.465 0.710
0.985 0.465 0.780
0.995 0.465 0.900
0.605 0.475 0.051
0.615 0.475 0.054
0.625 0.475 0.057
0.635 0.475 0.060
0.645 0.475 0.065
0.655 0.475 0.068
0.665 0.475 0.072
0.675 0.475 0.076
0.685 0.475 0.081
0.695 0.475 0.085
0.705 0.475 0.092
0.715 0.475 0.098
0.725 0.475 0.106
0.735 0.475 0.118
0.745 0.475 0.136
0.755 0.475 0.163
0.765 0.475 0.192
0.775 0.475 0.210
0.785 0.475 0.225
0.795 0.475 0.232
0.805 0.475 0.247
0.815 0.475 0.259
0.825 0.475 0.370
0.835 0.475 0.410
0.845 0.475 0.415
0.855 0.475 0.420
0.865 0.475 0.420
0.875 0.475 0.425
0.885 0.475 0.430
0.895 0.475 0.435
0.905 0.475 0.440
0.915 0.475 0.450
0.925 0.475 0.460
0.935 0.475 0.490
0.945 0.475 0.520
0.955 0.475 0.580
0.965 0.475 0.640
0.975 0.475 0.710
0.985 0.475 0.780
0.995 0.475 0.900
0.605 0.485 0.052
0.615 0.485 0.055
0.625 0.485 0.058
0.635 0.485 0.061
0.645 0.485 0.065
0.655 0.485 0.069
0.665 0.485 0.073
0.675 0.485 0.077
0.685 0.485 0.082
0.695 0.485 0.087
0.705 0.485 0.092
0.715 0.485 0.099
0.725 0.485 0.108
0.735 0.485 0.121
0.745 0.485 0.139
0.755 0.485 0.168
0.765 0.485 0.197
0.775 0.485 0.217
0.785 0.485 0.227
0.795 0.485 0.234
0.805 0.485 0.248
0.815 0.485 0.263
0.825 0.485 0.385
0.835 0.485 0.410
0.845 0.485 0.415
0.855 0.485 0.420
0.865 0.485 0.420
0.875 0.485 0.425
0.885 0.485 0.430
0.895 0.485 0.435
0.905 0.485 0.440
0.915 0.485 0.450
0.925 0.485 0.460
0.935 0.485 0.490
0.945 0.485 0.520
0.955 0.485 0.580
0.965 0.485 0.640
0.975 0.485 0.710
0.985 0.485 0.780
0.995 0.485 0.900
0.605 0.495 0.052
0.615 0.495 0.055
0.625 0.495 0.058
0.635 0.495 0.062
0.645 0.495 0.065
0.655 0.495 0.070
0.665 0.495 0.074
0.675 0.495 0.078
0.685 0.495 0.083
0.695 0.495 0.088
0.705 0.495 0.094
0.715 0.495 0.101
0.725 0.495 0.109
0.735 0.495 0.122
0.745 0.495 0.141
0.755 0.495 0.171
0.765 0.495 0.201
0.775 0.495 0.221
0.785 0.495 0.230
0.795 0.495 0.236
0.805 0.495 0.252
0.815 0.495 0.330
0.825 0.495 0.390
0.835 0.495 0.410
0.845 0.495 0.415
0.855 0.495 0.420
0.865 0.495 0.420
0.875 0.495 0.425
0.885 0.495 0.430
0.895 0.495 0.435
0.905 0.495 0.440
0.915 0.495 0.450
0.925 0.495 0.460
0.935 0.495 0.490
0.945 0.495 0.520
0.955 0.495 0.580
0.965 0.495 0.640
0.975 0.495 0.710
0.985 0.495 0.780
0.995 0.495 0.900
};
\end{axis}
\node[anchor=base, font=\fontsize{22.7}{26}\selectfont] at (101.1pt,-59pt) {Activity};
\end{tikzpicture}
\end{document}
